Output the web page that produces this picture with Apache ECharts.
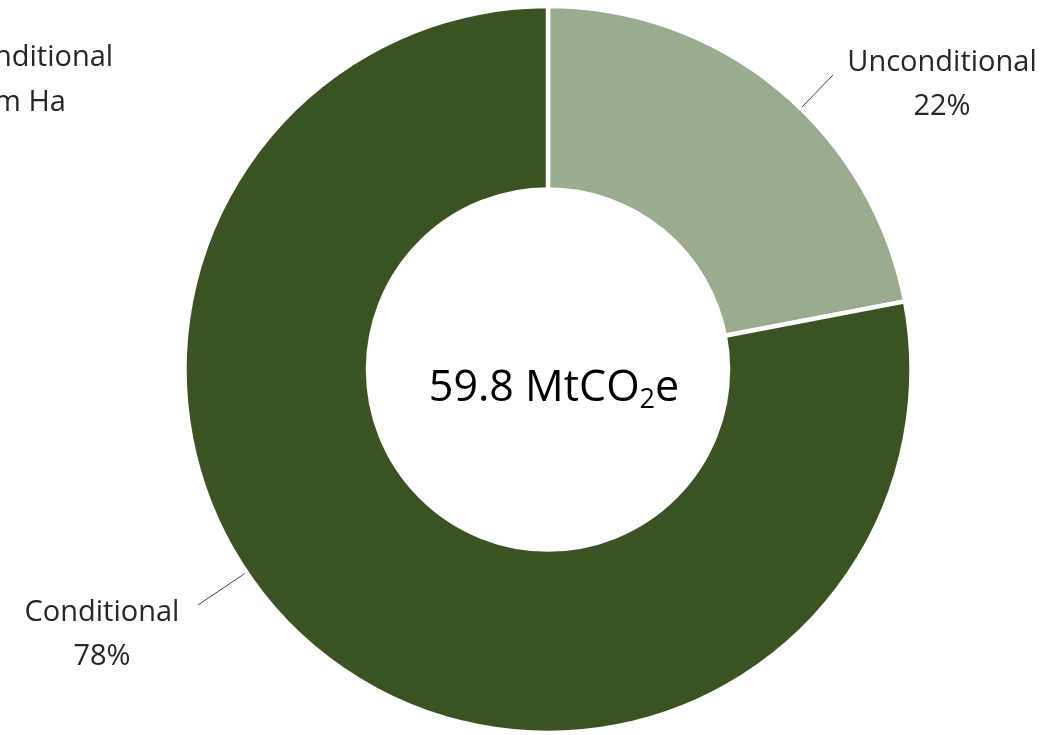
<!DOCTYPE html>
<html>
<head>
<meta charset="utf-8">
<script src="https://cdn.jsdelivr.net/npm/echarts@6/dist/echarts.min.js"></script>
<style>
  html, body { margin: 0; padding: 0; background: #fff; }
  #chart { width: 1063px; height: 735px; }
</style>
</head>
<body>
<div id="chart"></div>
<script>
// Share of the 59.8 MtCO2e target, in percent
const categories = ['Unconditional', 'Conditional'];
const shares = [22, 78];
const totalLabel = '59.8';
const sliceColors = ['#9aab8f', '#3b5323'];

const FONT = '"Open Sans"';
const CENTER = [548, 369.5];
const R_IN = 180;
const R_OUT = 363.5;

// label centres and the point where each leader line ends
const labelSpots = [
  { x: 942, y: 85, lineEnd: [833, 75] },
  { x: 102, y: 635, lineEnd: [198, 605] }
];

const chart = echarts.init(document.getElementById('chart'), null, { renderer: 'canvas' });

// leader line starts on the ring edge, at the point nearest the line end
function edgePoint(end) {
  const dx = CENTER[0] - end[0];
  const dy = CENTER[1] - end[1];
  const d = Math.sqrt(dx * dx + dy * dy);
  const k = (d - (R_OUT - 2.5)) / d;
  return [end[0] + dx * k, end[1] + dy * k];
}

chart.setOption({
  animation: false,
  backgroundColor: '#ffffff',
  graphic: [
    {
      type: 'text',
      left: -6,
      top: 35,
      style: {
        text: 'nditional\nm Ha',
        font: '29px ' + FONT,
        lineHeight: 45,
        fill: '#262626'
      }
    },
    {
      type: 'text',
      x: CENTER[0] + 6,
      y: CENTER[1] + 19,
      style: {
        text: '{a|' + totalLabel + ' MtCO}{s|2}{a|e}',
        align: 'center',
        verticalAlign: 'middle',
        rich: {
          a: { fontFamily: 'Open Sans', fontSize: 43, fill: '#000', lineHeight: 56 },
          s: { fontFamily: 'Open Sans', fontSize: 27, fill: '#000', lineHeight: 32, padding: [24, 0, 0, 0] }
        }
      }
    }
  ],
  series: [{
    type: 'pie',
    center: CENTER,
    radius: [R_IN, R_OUT],
    startAngle: 90,
    clockwise: true,
    silent: true,
    data: categories.map((name, i) => ({
      name: name,
      value: shares[i],
      itemStyle: { color: sliceColors[i] }
    })),
    itemStyle: { borderColor: '#ffffff', borderWidth: 4.5 },
    label: {
      show: true,
      position: 'outside',
      formatter: '{b}\n{c}%',
      fontFamily: 'Open Sans',
      fontSize: 29,
      lineHeight: 44,
      color: '#262626',
      align: 'center'
    },
    labelLine: {
      show: true,
      length: 10,
      length2: 10,
      lineStyle: { color: '#3f3f3f', width: 1 }
    },
    labelLayout: function (params) {
      const spot = labelSpots[params.dataIndex];
      const end = spot.lineEnd;
      return {
        x: spot.x,
        y: spot.y,
        align: 'center',
        verticalAlign: 'middle',
        labelLinePoints: [edgePoint(end), end, end]
      };
    }
  }]
});
</script>
</body>
</html>
